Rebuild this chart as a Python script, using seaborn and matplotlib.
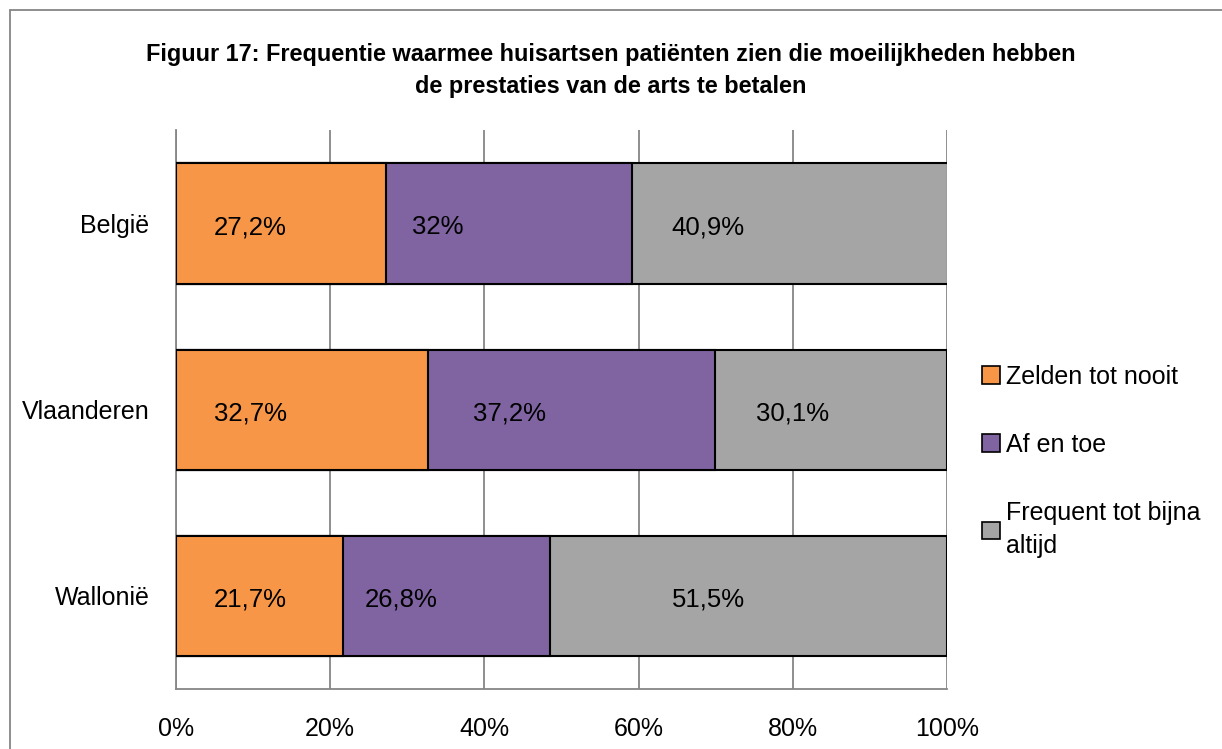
import seaborn as sns
import matplotlib.pyplot as plt
import pandas as pd
from matplotlib.lines import Line2D

regions = ['België', 'Vlaanderen', 'Wallonië']
series = ['Zelden tot nooit', 'Af en toe', 'Frequent tot bijna\naltijd']
zelden = [27.2, 32.7, 21.7]
af_en_toe = [32.0, 37.2, 26.8]
frequent = [40.9, 30.1, 51.5]
label_texts = [['27,2%', '32%', '40,9%'],
               ['32,7%', '37,2%', '30,1%'],
               ['21,7%', '26,8%', '51,5%']]

colors = ['#F79646', '#8064A2', '#A5A5A5']

sns.set_style('white')
plt.rcParams['font.family'] = ['Liberation Sans', 'DejaVu Sans']
plt.rcParams.update({'text.color': 'black', 'xtick.color': 'black',
                     'ytick.color': 'black', 'axes.labelcolor': 'black'})

df = pd.DataFrame({'Regio': regions, 'z': zelden, 'a': af_en_toe, 'f': frequent})
df['c1'] = df['z']
df['c2'] = df['z'] + df['a']
df['c3'] = df['z'] + df['a'] + df['f']

fig = plt.figure(figsize=(12.22, 7.49), dpi=100)
ax = fig.add_axes([0.144, 0.080, 0.631, 0.746])

# gestapelde balken: totaal eerst, daarna de cumulatieve delen erover
for col, c in zip(['c3', 'c2', 'c1'], colors[::-1]):
    sns.barplot(data=df, x=col, y='Regio', orient='h', color=c, width=0.645,
                saturation=1, edgecolor='black', linewidth=1.5, ax=ax, zorder=3)

# labels: linkerkant van segment + vaste verschuiving (zoals in origineel)
offsets = [[9.6, 6.8, 9.8], [9.7, 10.5, 10.0], [9.6, 7.5, 20.5]]
starts = list(zip([0, 0, 0], df['c1'], df['c2']))
for i in range(len(regions)):
    for j in range(3):
        ax.text(starts[i][j] + offsets[i][j], i + 0.02, label_texts[i][j],
                ha='center', va='center', fontsize=18.5, color='black', zorder=5)

ax.set_xlim(0, 100)
ax.set_ylim(2.5, -0.5)
ax.set_xticks([0, 20, 40, 60, 80, 100])
ax.set_xticklabels(['0%', '20%', '40%', '60%', '80%', '100%'], fontsize=18)
ax.tick_params(axis='x', length=0, pad=20)
ax.tick_params(axis='y', length=0, pad=19, labelsize=18)
ax.set_xlabel('')
ax.set_ylabel('')
ax.grid(axis='x', color='#868686', linewidth=1.3, zorder=0)
ax.set_axisbelow(True)
for s in ['top', 'right']:
    ax.spines[s].set_visible(False)
for s in ['left', 'bottom']:
    ax.spines[s].set_color('#868686')
    ax.spines[s].set_linewidth(1.3)

handles = [plt.Rectangle((0, 0), 1, 1, facecolor=c, edgecolor='black', linewidth=1.2)
           for c in colors]
leg = fig.legend(handles, series, loc='upper left', bbox_to_anchor=(0.7935, 0.530),
                 frameon=False, fontsize=18, handlelength=0.7, handleheight=0.7,
                 handletextpad=0.25, labelspacing=1.77, borderpad=0)
for t in leg.get_texts():
    t.set_linespacing(1.48)

fig.text(0.5, 0.906, 'Figuur 17: Frequentie waarmee huisartsen patiënten zien die moeilijkheden hebben\n'
         'de prestaties van de arts te betalen', ha='center', va='center',
         fontsize=16.9, fontweight='bold', linespacing=1.5)

# kader rond de grafiek (loopt door buiten beeld)
fig.add_artist(Line2D([10 / 1222, 1.0], [1 - 10 / 749, 1 - 10 / 749],
                      transform=fig.transFigure, color='#868686', linewidth=1.3))
fig.add_artist(Line2D([10 / 1222, 10 / 1222], [0, 1 - 10 / 749],
                      transform=fig.transFigure, color='#868686', linewidth=1.3))

plt.savefig('out.png', dpi=100)
